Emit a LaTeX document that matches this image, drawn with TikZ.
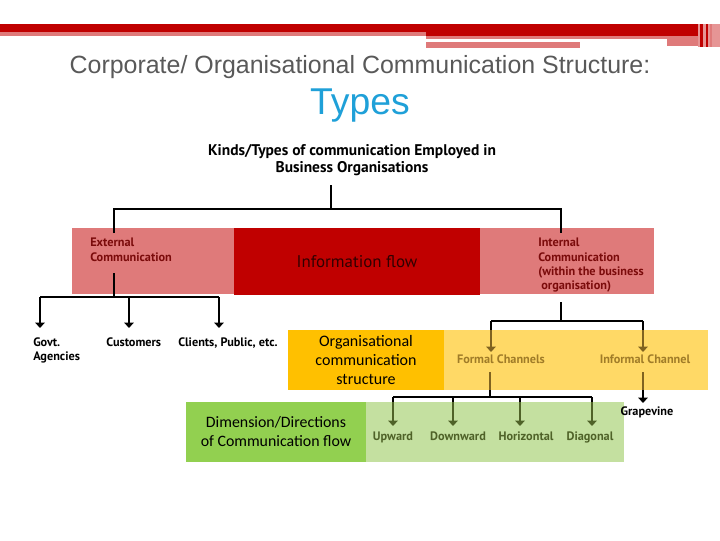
\documentclass[tikz,border=0pt]{standalone}
\usepackage{fontspec}
\setmainfont{Liberation Sans}
\newfontfamily\lblfont{PT Sans}
\newfontfamily\calfont{Carlito}
\usetikzlibrary{arrows.meta}
\definecolor{dred}{HTML}{C00000}
\definecolor{pinkb}{HTML}{DF7A7A}
\definecolor{lpink}{HTML}{E69595}
\definecolor{orangeb}{HTML}{FFC000}
\definecolor{ylwb}{HTML}{FFD966}
\definecolor{greenb}{HTML}{92D050}
\definecolor{lgreenb}{HTML}{C4E0A0}
\definecolor{gtext}{HTML}{4F6228}
\definecolor{ytext}{HTML}{A07C28}
\definecolor{rtext}{HTML}{7B0B0B}
\definecolor{ttl}{HTML}{595959}
\definecolor{typesc}{HTML}{1FA0D8}
\tikzset{
  conn/.style={line width=1.3pt,black},
  tip/.style={-{Triangle[length=4pt,width=7pt]}},
  lab/.style={font=\lblfont\bfseries\fontsize{9.2}{10.7}\selectfont,inner sep=0pt,align=left},
  boxtxt/.style={font=\calfont\fontsize{12}{14.5}\selectfont,inner sep=0pt,align=center},
}
\begin{document}
\begin{tikzpicture}[x=0.75pt,y=-0.75pt]
\useasboundingbox (0,0) rectangle (720,540);
% top banner
\fill[dred] (0,24) rectangle (698,32);
\fill[pinkb] (0,32) rectangle (426,36);
\fill[dred] (426,32) rectangle (698,36);
\fill[pinkb] (426,36) rectangle (667,39);
\fill[pinkb] (426,42) rectangle (580,48);
\fill[pinkb] (667,36) rectangle (698,46);
\fill[lpink] (698,24) rectangle (720,47);
\fill[dred] (700,24) rectangle (703,47);
\fill[dred] (706,24) rectangle (708,47);
\fill[pinkb] (710,24) rectangle (712,47);
% titles
\node[text=ttl,font=\fontsize{18.7}{20}\selectfont] (t1) at (360,67) {Corporate/ Organisational Communication Structure:};
\node[text=typesc,font=\fontsize{28}{30}\selectfont] (t2) at (360,106) {Types};
% root
\node[font=\lblfont\bfseries\fontsize{11.6}{13}\selectfont,align=center,inner sep=0pt] (root) at (352,160) {Kinds/Types of communication Employed in\\Business Organisations};
% bands
\fill[pinkb] (72,228) rectangle (654,294);
\fill[dred] (234,228) rectangle (480,295);
\fill[ylwb] (288,330) rectangle (708,390);
\fill[orangeb] (288,330) rectangle (444,390);
\fill[lgreenb] (366,402) rectangle (624,462);
\fill[greenb] (186,402) rectangle (366,462);
% texts in red band
\node[lab,text=rtext,anchor=north west] (ext) at (90,238) {External\\Communication};
\node[font=\lblfont\fontsize{12.7}{14}\selectfont,text=black!75!dred] (info) at (357,262) {Information flow};
\node[lab,text=rtext,anchor=north west] (int) at (538,238) {Internal\\Communication\\(within the business\\\ organisation)};
% external children
\node[lab,anchor=north west] (govt) at (33,337) {Govt.\\Agencies};
\node[lab,anchor=north west] (cust) at (106,337) {Customers};
\node[lab,anchor=north west] (cli) at (178,337) {Clients, Public, etc.};
% organisational band
\node[boxtxt] (ocs) at (366,360) {Organisational\\communication\\structure};
\node[lab,text=ytext,anchor=base] (formal) at (501,363) {Formal Channels};
\node[lab,text=ytext,anchor=base] (informal) at (645,363) {Informal Channel};
\node[lab,anchor=base] (grape) at (647,415) {Grapevine};
% dimension band
\node[boxtxt,font=\calfont\fontsize{11.9}{14.25}\selectfont] (dim) at (276,432) {Dimension/Directions\\of Communication flow};
\node[lab,text=gtext,anchor=base] (up) at (393,440) {Upward};
\node[lab,text=gtext,anchor=base] (down) at (458,440) {Downward};
\node[lab,text=gtext,anchor=base] (hor) at (526,440) {Horizontal};
\node[lab,text=gtext,anchor=base] (diag) at (590,440) {Diagonal};
% junction coordinates
\coordinate (rootb) at (331,185);
\coordinate (jtop) at (331,209);
\coordinate (extT) at (114,233);
\coordinate (intT) at (561,233);
\coordinate (extB) at (114,273);
\coordinate (jext) at (114,297);
\coordinate (intB) at (561,302);
\coordinate (jint) at (561,321);
\coordinate (formB) at (490,372);
\coordinate (jform) at (490,397);
\coordinate (infB) at (643,372);
% top tree
\draw[conn] (rootb) -- (jtop);
\draw[conn] (extT) |- (jtop) -| (intT);
% external
\draw[conn] (extB) -- (jext);
\draw[conn] (40,297) -- (219,297);
\draw[conn,tip] (40,297) -- (40,328);
\draw[conn,tip] (129,297) -- (129,328);
\draw[conn,tip] (219,297) -- (219,328);
% internal
\draw[conn] (intB) -- (jint);
\draw[conn] (491,321) -- (643,321);
\draw[conn] (491,321) -- (491,330);
\draw[conn] (643,321) -- (643,330);
\draw[conn,draw=ytext!80!black,tip] (491,330) -- (491,352);
\draw[conn,draw=ytext!80!black,tip] (643,330) -- (643,352);
% formal
\draw[conn,draw=ytext!80!black] (formB) -- (490,390);
\draw[conn] (490,390) -- (jform);
\draw[conn] (393,397) -- (592,397);
\foreach \x in {393,453,520,592}{
  \draw[conn] (\x,397) -- (\x,402);
  \draw[conn,draw=gtext,tip] (\x,402) -- (\x,426);
}
% informal
\draw[conn,draw=ytext!80!black] (infB) -- (643,390);
\draw[conn,tip] (643,390) -- (643,403);
\end{tikzpicture}
\end{document}
